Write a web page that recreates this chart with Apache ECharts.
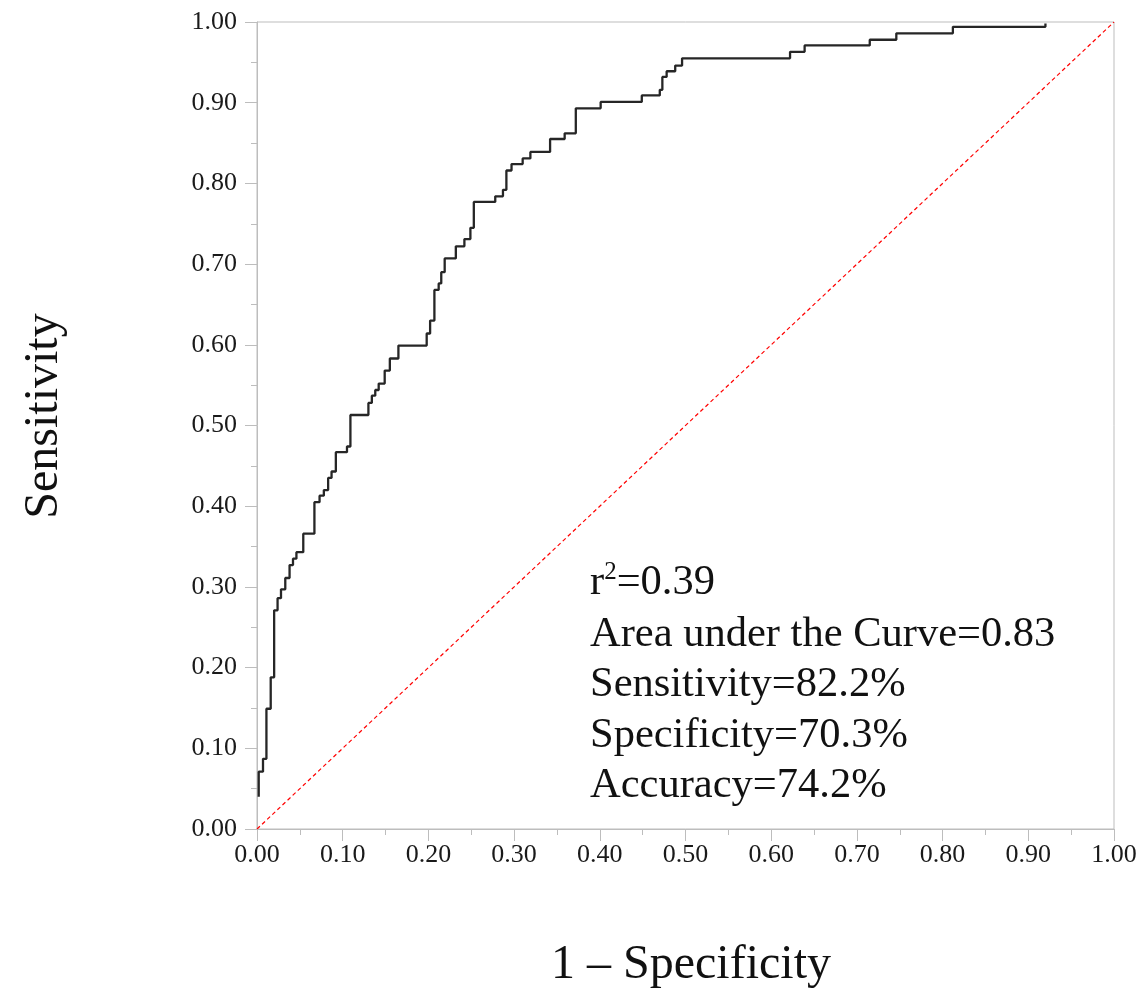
<!DOCTYPE html>
<html>
<head>
<meta charset="utf-8">
<script src="https://cdn.jsdelivr.net/npm/echarts@6/dist/echarts.min.js"></script>
<style>html,body{margin:0;padding:0;background:#fff}#chart{width:1142px;height:993px}</style>
</head>
<body>
<div id="chart"></div>
<script>
// ROC curve step vertices: false positive rate (1 - specificity) and sensitivity
var fpr = [0.002,0.002,0.007,0.011,0.016,0.020,0.024,0.028,0.033,0.038,0.042,0.046,0.054,0.067,0.073,0.078,0.083,0.087,0.092,0.105,0.109,0.130,0.134,0.138,0.142,0.149,0.155,0.165,0.198,0.202,0.207,0.212,0.215,0.219,0.232,0.242,0.249,0.253,0.278,0.287,0.291,0.297,0.310,0.319,0.342,0.359,0.372,0.401,0.449,0.470,0.473,0.478,0.488,0.496,0.622,0.639,0.715,0.746,0.812,0.920];
var tpr = [0.040,0.071,0.087,0.149,0.188,0.271,0.286,0.297,0.311,0.327,0.335,0.343,0.366,0.405,0.413,0.420,0.435,0.443,0.467,0.474,0.513,0.528,0.537,0.544,0.552,0.568,0.583,0.599,0.614,0.630,0.668,0.676,0.690,0.707,0.722,0.731,0.745,0.777,0.784,0.792,0.816,0.824,0.831,0.839,0.855,0.862,0.893,0.901,0.909,0.916,0.932,0.939,0.946,0.955,0.963,0.971,0.978,0.986,0.994,0.998];
var refX = [0, 1];
var refY = [0, 1];
var tickLabels = ['0.00','0.10','0.20','0.30','0.40','0.50','0.60','0.70','0.80','0.90','1.00'];
var statLines = ['Area under the Curve=0.83','Sensitivity=82.2%','Specificity=70.3%','Accuracy=74.2%'];
var r2Text = '0.39';
var xTitle = '1 \u2013 Specificity';
var yTitle = 'Sensitivity';

var rocPts = [[fpr[0], tpr[0]]];
for (var i = 1; i < fpr.length; i++) {
  rocPts.push([fpr[i], tpr[i-1]]);
  rocPts.push([fpr[i], tpr[i]]);
}
var refPts = refX.map(function(x, i){ return [x, refY[i]]; });

var serif = '"Liberation Serif","Times New Roman",serif';
var chart = echarts.init(document.getElementById('chart'), null, {renderer:'canvas'});

function axisCommon(){
  return {
    type:'value', min:0, max:1, interval:0.1,
    axisLine:{show:true, lineStyle:{color:'#bdbdbd', width:1}},
    axisTick:{show:true, inside:false, length:12, lineStyle:{color:'#bdbdbd', width:1}},
    minorTick:{show:true, splitNumber:2, length:6, lineStyle:{color:'#bdbdbd', width:1}},
    splitLine:{show:false},
    axisLabel:{color:'#1a1a1a', fontFamily:serif, fontSize:26,
      formatter:function(v){ var k = Math.round(v*10); return tickLabels[k]; }}
  };
}
var xa = axisCommon(); xa.axisLabel.margin = 13;
var ya = axisCommon(); ya.axisLabel.margin = 20;

var statGraphics = statLines.map(function(t, i){
  return {type:'text', left:590, top:613 + i*50.5,
    style:{text:t, font:'42.5px ' + serif, fill:'#111'}};
});

chart.setOption({
  animation:false,
  backgroundColor:'#fff',
  grid:{left:257, right:28, top:22, bottom:164, show:true, borderColor:'#bdbdbd', borderWidth:1, backgroundColor:'transparent'},
  xAxis:xa,
  yAxis:ya,
  series:[
    {type:'line', data:refPts, symbol:'none', silent:true,
     lineStyle:{color:'#ff0000', width:1.2, type:[4,3]}},
    {type:'line', data:rocPts, symbol:'none', silent:true,
     lineStyle:{color:'#262626', width:2.3}}
  ],
  graphic:[
    {type:'text', left:590, top:560,
     style:{rich:{r:{fontFamily:serif, fontSize:42.5, fill:'#111', lineHeight:46},
                  s:{fontFamily:serif, fontSize:25, fill:'#111', lineHeight:46, verticalAlign:'top'}},
            text:'{r|r}{s|2}{r|=' + r2Text + '}'}},
  ].concat(statGraphics).concat([
    {type:'text', x:691, y:941, z:10,
     style:{text:xTitle, font:'48px ' + serif, fill:'#111', align:'center', verticalAlign:'top'}},
    {type:'text', rotation:Math.PI/2, x:20, y:416,
     style:{text:yTitle, font:'48px ' + serif, fill:'#111', align:'center', verticalAlign:'top'}}
  ])
});
</script>
</body>
</html>
